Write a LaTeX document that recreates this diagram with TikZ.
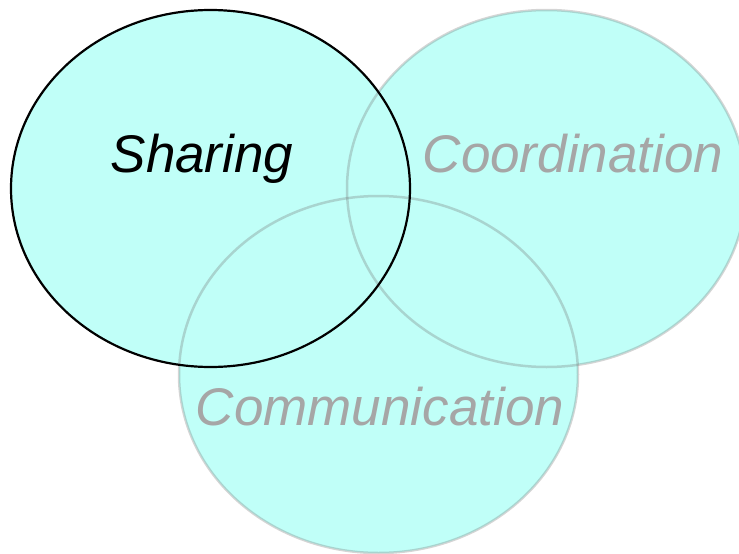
\documentclass[tikz,border=0pt]{standalone}
\usepackage{fontspec}
\setmainfont{Liberation Sans}
\usetikzlibrary{shapes.geometric}
\definecolor{venncyan}{RGB}{192,255,248}
\definecolor{labelgray}{RGB}{166,166,166}
\tikzset{
  vennfill/.style={ellipse, inner sep=0pt, fill=venncyan, minimum width=399pt, minimum height=357pt},
  vennline/.style={ellipse, inner sep=0pt, draw=black!55, draw opacity=0.3, line width=2.5pt, minimum width=399pt, minimum height=357pt},
  vennblack/.style={ellipse, inner sep=0pt, draw=black, line width=2.2pt, minimum width=399pt, minimum height=357pt},
  venntext/.style={inner sep=0pt, anchor=base, font=\fontsize{53}{60}\selectfont\itshape}
}
\begin{document}
\begin{tikzpicture}[x=1pt,y=-1pt]
\useasboundingbox (0,0) rectangle (739,554);
\node[vennfill] (fillS) at (210.5,188.5) {};
\node[vennfill] (fillC) at (546.5,188.5) {};
\node[vennfill] (fillM) at (378.5,374.5) {};
\node[vennline] (lineC) at (546.5,188.5) {};
\node[vennline] (lineM) at (378.5,374.5) {};
\node[vennblack] (lineS) at (210.5,188.5) {};
\node[venntext, text=black] (tS) at (202,172) {Sharing};
\node[venntext, text=labelgray] (tC) at (573,172) {Coordination};
\node[venntext, text=labelgray] (tM) at (380,425) {Communication};
\end{tikzpicture}
\end{document}
